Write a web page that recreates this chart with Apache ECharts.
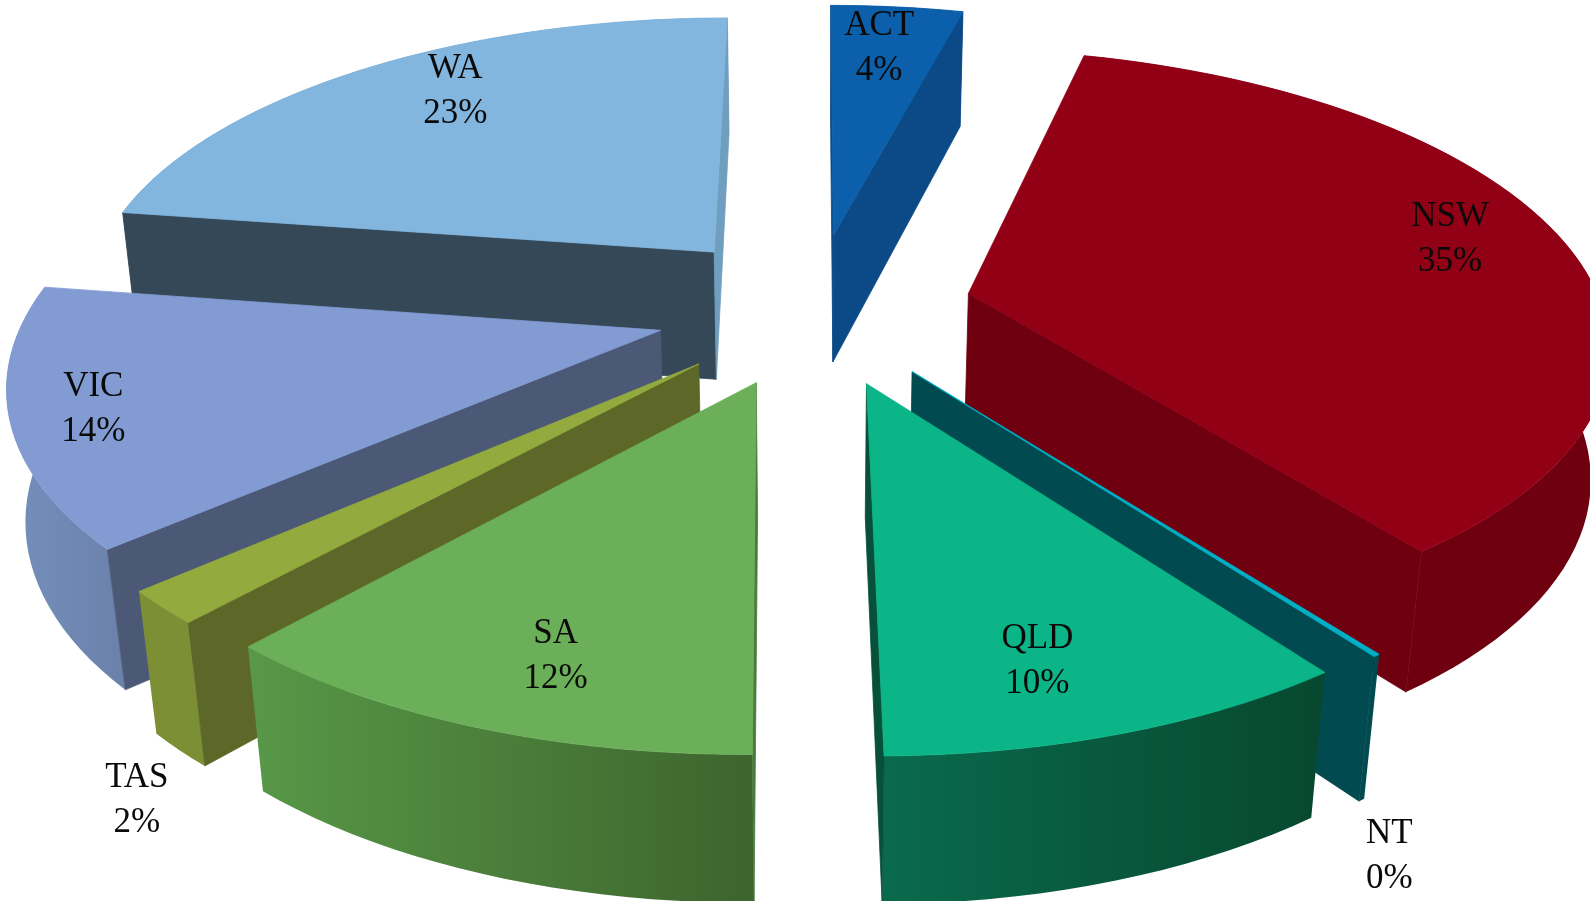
<!DOCTYPE html>
<html>
<head>
<meta charset="utf-8">
<title>Exploded 3D pie</title>
<style>
  html, body { margin: 0; padding: 0; background: #fff; }
  #main { width: 1590px; height: 901px; }
</style>
<script src="https://cdn.jsdelivr.net/npm/echarts@6/dist/echarts.min.js"></script>
</head>
<body>
<div id="main"></div>
<script>
// data (share of the pie, labels as printed)
const categories = ['ACT', 'NSW', 'NT', 'QLD', 'SA', 'TAS', 'VIC', 'WA'];
const values = [4, 35.75, 0.15, 9.95, 11.75, 1.8, 14, 22.6];
const percentLabels = ['4%', '35%', '0%', '10%', '12%', '2%', '14%', '23%'];

// colours per slice
const topColors = ['#0c60ab', '#920015', '#00afc6', '#0bb587', '#6bb058', '#93aa3f', '#829cd3', '#82b6df'];
const sideColors = ['#0b4a87', '#6e0010', '#004a50', '#074a35', '#4a7a3c', '#5c6728', '#4b5876', '#354858'];
const endColors = ['#0b4a87', '#6e0010', '#004a50', '#07503a', '#5d9a4c', '#5c6728', '#4b5876', '#6f9ebf'];
const rimColors = [
  ['#0b4a87', '#0b4a87'], ['#6e0010', '#6e0010'], ['#004a50', '#004a50'], ['#0a6a4c', '#07482f'],
  ['#589848', '#3d642d'], ['#7d8f35', '#7d8f35'], ['#7590bd', '#6a81aa'], ['#5f87a8', '#5f87a8']
];

// label centres, in the shrunk picture's pixels
const labelPos = [[867, 48], [1430, 236], [1370, 844], [1023, 652], [548, 647], [135, 789], [92, 404], [449, 90]];

// perspective of the pie plane, fitted to the picture
const S = 1590 / 1568;
const xc = 803, horizon = -1500, K = 1804, A = 625, g = 0.157, m = 0.023, H = 172.5;
const explodeU = 0.25, explodeV = 0.266;
const arcStep = 2;

function project(u, v, h) {
  const w = 1 + g * v + m * h;
  return [(xc + A * u / w) * S, (horizon + (K + H * h) / w) * S];
}

const total = values.reduce((a, b) => a + b, 0);
const slices = [];
let acc = 0;
values.forEach((val, i) => {
  const a0 = acc / total * Math.PI * 2;
  acc += val;
  const a1 = acc / total * Math.PI * 2;
  const mid = (a0 + a1) / 2;
  slices.push({ i, a0, a1, ou: Math.sin(mid) * explodeU, ov: Math.cos(mid) * explodeV });
});
// back slices get painted first
const paintOrder = slices.slice().sort((a, b) => b.ov - a.ov).map(s => s.i);

function rimPoints(s, h) {
  const pts = [];
  const n = Math.max(2, Math.ceil((s.a1 - s.a0) * 180 / Math.PI / arcStep));
  for (let k = 0; k <= n; k++) {
    const a = s.a0 + (s.a1 - s.a0) * k / n;
    pts.push(project(s.ou + Math.sin(a), s.ov + Math.cos(a), h));
  }
  return pts;
}

function poly(points, fill) {
  return {
    type: 'polygon',
    shape: { points: points },
    style: { fill: fill, stroke: typeof fill === 'string' ? fill : null, lineWidth: 0.8 }
  };
}

// side of line a-b that p falls on
function side(a, b, p) {
  return (b[0] - a[0]) * (p[1] - a[1]) - (b[1] - a[1]) * (p[0] - a[0]);
}

function radialWall(s, angle, topRim, fill) {
  const apexTop = project(s.ou, s.ov, 0);
  const apexBot = project(s.ou, s.ov, 1);
  const rimTop = project(s.ou + Math.sin(angle), s.ov + Math.cos(angle), 0);
  const rimBot = project(s.ou + Math.sin(angle), s.ov + Math.cos(angle), 1);
  const wallMid = [(apexBot[0] + rimBot[0]) / 2, (apexBot[1] + rimBot[1]) / 2];
  const faceMid = topRim[Math.floor(topRim.length / 2)];
  // visible only when the wall lies outside the top face
  if (side(apexTop, rimTop, wallMid) * side(apexTop, rimTop, faceMid) >= 0) return null;
  return poly([apexTop, rimTop, rimBot, apexBot], fill);
}

function renderSlice(params) {
  const s = slices[paintOrder[params.dataIndex]];
  const i = s.i;
  const top = rimPoints(s, 0);
  const bot = rimPoints(s, 1);
  const children = [];
  children.push(poly(top.concat(bot.slice().reverse()), {
    type: 'linear', x: 0, y: 0, x2: 1, y2: 0,
    colorStops: [{ offset: 0, color: rimColors[i][0] }, { offset: 1, color: rimColors[i][1] }]
  }));
  const w0 = radialWall(s, s.a0, top, sideColors[i]);
  const w1 = radialWall(s, s.a1, top, endColors[i]);
  if (w0) children.push(w0);
  if (w1) children.push(w1);
  children.push(poly([project(s.ou, s.ov, 0)].concat(top), topColors[i]));
  return { type: 'group', children: children };
}

function renderLabel(params) {
  const i = params.dataIndex;
  return {
    type: 'text',
    x: labelPos[i][0] * S,
    y: labelPos[i][1] * S,
    style: {
      text: categories[i] + '\n' + percentLabels[i],
      fill: '#0a0a0a',
      font: '35px "Liberation Serif"',
      lineHeight: 45,
      align: 'center',
      verticalAlign: 'middle'
    }
  };
}

const chart = echarts.init(document.getElementById('main'), null, { width: 1590, height: 901 });
chart.setOption({
  backgroundColor: '#ffffff',
  animation: false,
  series: [
    {
      type: 'custom',
      coordinateSystem: 'none',
      silent: true,
      renderItem: renderSlice,
      data: paintOrder.map(i => values[i])
    },
    {
      type: 'custom',
      coordinateSystem: 'none',
      silent: true,
      z: 5,
      renderItem: renderLabel,
      data: categories
    }
  ]
});
</script>
</body>
</html>
